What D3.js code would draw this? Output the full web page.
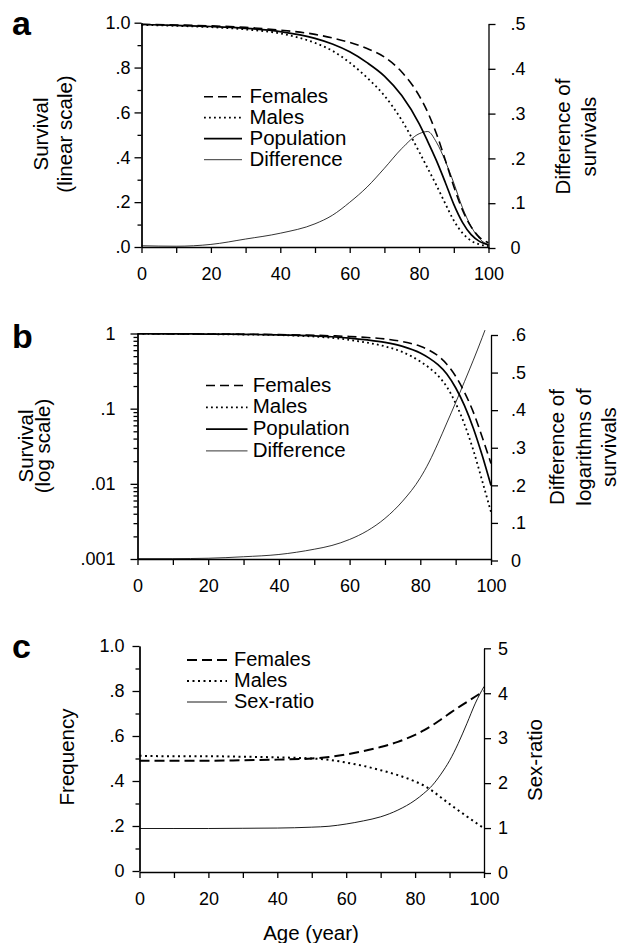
<!DOCTYPE html>
<meta charset="utf-8">
<script src="https://d3js.org/d3.v7.min.js"></script>
<style type="text/css">
  body { margin: 0; background: #fff; }
  svg { display: block; font-family: "Liberation Sans", Arial, sans-serif; }
  .axis path, .axis line { stroke: #000; stroke-width: 1.3; }
  .axis text { font-size: 18px; fill: #000; font-family: "Liberation Sans", Arial, sans-serif; }
  .title { font-size: 20.5px; fill: #000; }
  .legc { font-size: 20px; fill: #000; }
  .letter { font-size: 34px; font-weight: bold; fill: #000; }
</style>
<body></body>
<script>

// ages (years)
var ages = [0, 10, 20, 30, 40, 50, 55, 60, 65, 70, 75, 80, 82.5, 85, 87.5, 90, 92.5, 95, 97.5, 100];

// panels a and b: survival
var survFemales = [0.993, 0.99, 0.986, 0.979, 0.967, 0.948, 0.932, 0.912, 0.885, 0.847, 0.78, 0.675, 0.6, 0.505, 0.39, 0.27, 0.165, 0.09, 0.042, 0.0186];
var survMales = [0.99, 0.986, 0.98, 0.97, 0.952, 0.91, 0.875, 0.822, 0.755, 0.675, 0.565, 0.425, 0.35, 0.275, 0.195, 0.118, 0.062, 0.028, 0.011, 0.0042];
var survPopulation = [0.992, 0.988, 0.983, 0.975, 0.96, 0.93, 0.905, 0.87, 0.822, 0.762, 0.675, 0.55, 0.47, 0.385, 0.29, 0.19, 0.11, 0.055, 0.024, 0.0095];
// panel a: difference of survivals (right axis)
var diffSurv = [0.005, 0.004, 0.008, 0.02, 0.033, 0.054, 0.073, 0.102, 0.136, 0.178, 0.222, 0.255, 0.26, 0.236, 0.195, 0.145, 0.09, 0.048, 0.02, 0.007];
// panel b: difference of logarithms of survivals (right axis), curve stops at the top
var logDiffAges = [0, 10, 20, 30, 40, 50, 55, 60, 65, 70, 75, 80, 82.5, 85, 87.5, 90, 92.5, 95, 97.5, 98.3];
var diffLogSurv = [0.005, 0.005, 0.006, 0.01, 0.016, 0.03, 0.04, 0.056, 0.079, 0.112, 0.158, 0.22, 0.262, 0.312, 0.366, 0.42, 0.476, 0.533, 0.593, 0.613];

// panel c: frequency among survivors and sex-ratio
var freqFemales = [0.49, 0.49, 0.49, 0.492, 0.495, 0.5, 0.507, 0.518, 0.533, 0.551, 0.574, 0.605, 0.6245, 0.6475, 0.6735, 0.7005, 0.7265, 0.751, 0.7755, 0.8];
var freqMales = [0.512, 0.51, 0.51, 0.508, 0.505, 0.5, 0.494, 0.482, 0.467, 0.448, 0.426, 0.398, 0.38, 0.356, 0.327, 0.298, 0.27, 0.243, 0.216, 0.19];
var sexRatio = [0.99, 0.99, 0.99, 0.995, 1.0, 1.02, 1.04, 1.09, 1.16, 1.25, 1.4, 1.62, 1.77, 1.95, 2.2, 2.5, 2.88, 3.32, 3.78, 4.15];

// tick values and labels
var xTicks = [0, 10, 20, 30, 40, 50, 60, 70, 80, 90, 100];
var linTicks = [0, 0.2, 0.4, 0.6, 0.8, 1];
var linMinor = [0.1, 0.3, 0.5, 0.7, 0.9];
var linLabelsA = [".0", ".2", ".4", ".6", ".8", "1.0"];
var linLabelsC = ["0", ".2", ".4", ".6", ".8", "1.0"];
var logTicks = [0.001, 0.01, 0.1, 1];
var logLabels = [".001", ".01", ".1", "1"];
var diffTicksA = [0, 0.1, 0.2, 0.3, 0.4, 0.5];
var diffLabelsA = ["0", ".1", ".2", ".3", ".4", ".5"];
var diffTicksB = [0, 0.1, 0.2, 0.3, 0.4, 0.5, 0.6];
var diffLabelsB = ["0", ".1", ".2", ".3", ".4", ".5", ".6"];
var ratioTicks = [0, 1, 2, 3, 4, 5];

var svg = d3.select("body").append("svg")
  .attr("width", 621)
  .attr("height", 943);

var styleF = {w: 1.6, dash: "9,5"};
var styleM = {w: 1.8, dash: "1.8,3.2"};
var styleP = {w: 1.7, dash: null};
var styleThin = {w: 0.8, dash: null};

function drawCurve(x, y, xs, ys, st) {
  var line = d3.line()
    .x((d, i) => x(xs[i]))
    .y(d => y(d))
    .curve(d3.curveMonotoneX);
  svg.append("path")
    .attr("d", line(ys))
    .attr("fill", "none")
    .attr("stroke", "#000")
    .attr("stroke-width", st.w)
    .attr("stroke-dasharray", st.dash);
}

function drawLegend(x1, x2, tx, y0, step, items, cls) {
  items.forEach((it, i) => {
    var by = y0 + i * step;
    svg.append("line")
      .attr("x1", x1).attr("x2", x2)
      .attr("y1", by - 6).attr("y2", by - 6)
      .attr("stroke", "#000")
      .attr("stroke-width", it[1].w)
      .attr("stroke-dasharray", it[1].dash);
    svg.append("text")
      .attr("class", cls || "title")
      .attr("x", tx).attr("y", by)
      .text(it[0]);
  });
}

function vTitle(lines, xs, cy) {
  lines.forEach((t, i) => {
    svg.append("text")
      .attr("class", "title")
      .attr("text-anchor", "middle")
      .attr("transform", `translate(${xs[i]},${cy}) rotate(-90)`)
      .text(t);
  });
}

function xAxisAt(x, yPos) {
  svg.append("g")
    .attr("class", "axis")
    .attr("transform", `translate(0,${yPos})`)
    .call(d3.axisBottom(x).tickValues(xTicks).tickSize(6).tickSizeOuter(0).tickPadding(14)
      .tickFormat(d => d % 20 == 0 ? d : ""));
}

function leftAxis(y, ticks, labels, minor, pad) {
  svg.append("g")
    .attr("class", "axis")
    .attr("transform", `translate(${y.xPos},0)`)
    .call(d3.axisLeft(y).tickValues(minor).tickSize(4).tickSizeOuter(0).tickFormat(""));
  svg.append("g")
    .attr("class", "axis")
    .attr("transform", `translate(${y.xPos},0)`)
    .call(d3.axisLeft(y).tickValues(ticks).tickSize(7).tickSizeOuter(0).tickPadding(pad)
      .tickFormat((d, i) => labels[i]));
}

function rightAxis(y, ticks, labels, pad) {
  svg.append("g")
    .attr("class", "axis")
    .attr("transform", `translate(${y.xPos},0)`)
    .call(d3.axisRight(y).tickValues(ticks).tickSize(7).tickSizeOuter(0).tickPadding(pad)
      .tickFormat((d, i) => labels[i]));
}

// ---------- panel a ----------
var xA = d3.scaleLinear().domain([0, 100]).range([141.5, 488.5]);
var yA = d3.scaleLinear().domain([0, 1]).range([247, 22.7]);
var yA2 = d3.scaleLinear().domain([0, 0.5]).range([248, 24]);
yA.xPos = xA(0); yA2.xPos = xA(100);

xAxisAt(xA, 247);
leftAxis(yA, linTicks, linLabelsA, linMinor, 4);
rightAxis(yA2, diffTicksA, diffLabelsA, 15);

drawCurve(xA, yA2, ages, diffSurv, styleThin);
drawCurve(xA, yA, ages, survMales, styleM);
drawCurve(xA, yA, ages, survFemales, styleF);
drawCurve(xA, yA, ages, survPopulation, styleP);

drawLegend(204, 242, 249.5, 102.7, 21, [["Females", styleF], ["Males", styleM], ["Population", styleP], ["Difference", styleThin]]);
vTitle(["Survival", "(linear scale)"], [48, 72], 134);
vTitle(["Difference of", "survivals"], [570, 596], 136.5);
svg.append("text").attr("class", "letter").attr("x", 12).attr("y", 35).text("a");

// ---------- panel b ----------
var xB = d3.scaleLinear().domain([0, 100]).range([137.5, 491]);
var yB = d3.scaleLog().domain([0.001, 1]).range([559, 333.5]);
var yB2 = d3.scaleLinear().domain([0, 0.6]).range([560.5, 335]);
yB.xPos = xB(0); yB2.xPos = xB(100);

var logMinor = [];
[0.001, 0.01, 0.1].forEach(dec => {
  for (var k = 2; k <= 9; k++) logMinor.push(dec * k);
});

xAxisAt(xB, 559);
leftAxis(yB, logTicks, logLabels, logMinor, 15);
rightAxis(yB2, diffTicksB, diffLabelsB, 13);

drawCurve(xB, yB2, logDiffAges, diffLogSurv, styleThin);
drawCurve(xB, yB, ages, survMales, styleM);
drawCurve(xB, yB, ages, survFemales, styleF);
drawCurve(xB, yB, ages, survPopulation, styleP);

drawLegend(206, 247.5, 252.7, 391.5, 21.8, [["Females", styleF], ["Males", styleM], ["Population", styleP], ["Difference", styleThin]]);
vTitle(["Survival", "(log scale)"], [33, 50], 446);
vTitle(["Difference of", "logarithms of", "survivals"], [564, 590.5, 616], 447);
svg.append("text").attr("class", "letter").attr("x", 12).attr("y", 348).text("b");

// ---------- panel c ----------
var xC = d3.scaleLinear().domain([0, 100]).range([139.5, 484]);
var yC = d3.scaleLinear().domain([0, 1]).range([871, 646]);
var yC2 = d3.scaleLinear().domain([0, 5]).range([873, 648.3]);
yC.xPos = xC(0); yC2.xPos = xC(100);

xAxisAt(xC, 872);
leftAxis(yC, linTicks, linLabelsC, linMinor, 8);
rightAxis(yC2, ratioTicks, ratioTicks.map(String), 7);

var styleFc = {w: 2, dash: "10,5"};
var styleMc = {w: 2, dash: "2,3.5"};
var styleRatio = {w: 0.9, dash: null};

drawCurve(xC, yC2, ages, sexRatio, styleRatio);
drawCurve(xC, yC, ages, freqMales, styleMc);
drawCurve(xC, yC, ages, freqFemales, styleFc);

drawLegend(187, 227, 234, 666, 21, [["Females", styleFc], ["Males", styleMc], ["Sex-ratio", styleRatio]], "legc");
vTitle(["Frequency"], [74], 757);
vTitle(["Sex-ratio"], [542], 760);
svg.append("text").attr("class", "title").attr("text-anchor", "middle")
  .attr("x", 311).attr("y", 940).text("Age (year)");
svg.append("text").attr("class", "letter").attr("x", 12).attr("y", 658).text("c");

</script>
